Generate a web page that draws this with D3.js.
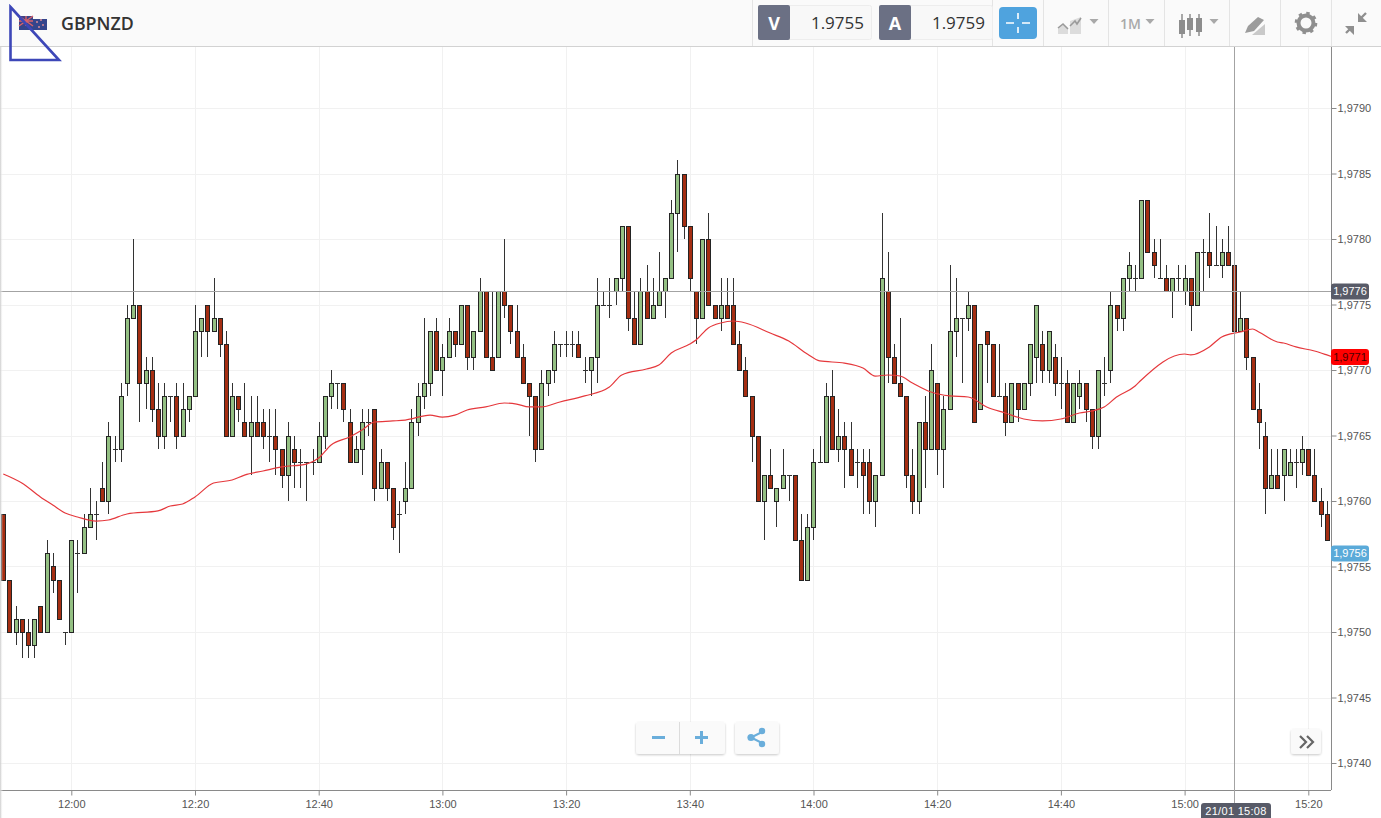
<!DOCTYPE html>
<html><head><meta charset="utf-8">
<script src="https://cdnjs.cloudflare.com/ajax/libs/d3/7.8.5/d3.min.js"></script>
<style>html,body{margin:0;padding:0;background:#fff;overflow:hidden}svg{display:block}</style>
</head><body><svg id="c" width="1381" height="818"></svg>
<script>
// Prices are in pips above 1.9700; one candle per minute starting at 11:49
const symbol="GBPNZD", bidPrice="1.9755", askPrice="1.9759";
const opens=[59,54,50,51,50,49,52,50,55,54,50,50,56,56,58,59,61,60,64,64,69,74,75,69,70,67,65,68,68,65,67,68,73,75,73,74,72,65,68,66,65,66,66,65,65,64,62,64,63,63,63,63,65,68,69,69,66,63,64,66,67,61,63,61,59,60,61,66,68,69,73,70,71,73,72,75,71,73,76,71,71,76,75,73,71,69,68,64,69,70,72,72,72,72,70,70,71,75,75,76,77,81,74,72,76,74,75,76,77,82,85,81,76,74,80,75,74,75,75,72,70,68,65,60,62,60,61,62,62,57,54,58,63,63,68,64,65,64,63,63,63,60,62,76,71,69,68,62,60,66,64,69,64,67,73,74,74,75,67,73,72,68,68,66,69,67,69,71,72,70,71,69,69,66,68,69,67,65,69,70,75,74,77,77,77,83,79,77,77,76,77,76,77,75,79,79,78,78,79,78,73,74,71,67,65,61,62,62,62,63,63,64,62,60,59];
const highs=[59,54,52,51,51,51,52,57,56,54,50,57,57,59,61,60,63,66,65,69,75,80,75,71,71,69,69,68,69,69,68,75,74,75,77,74,73,69,68,69,68,68,67,67,67,64,66,65,64,63,64,66,68,70,69,69,67,65,67,67,67,64,63,61,60,63,67,69,74,73,74,72,74,73,75,75,73,77,76,76,76,80,75,75,72,69,68,70,70,73,72,73,73,73,71,71,77,76,77,77,81,81,76,77,78,77,79,77,83,86,85,81,76,80,82,75,77,77,77,73,71,68,65,62,64,61,64,62,62,59,59,64,65,69,70,67,66,66,64,64,64,62,82,79,72,74,68,64,66,68,72,69,68,78,77,74,76,75,72,73,72,72,69,69,69,69,72,75,73,73,72,71,70,69,70,69,67,70,71,76,75,77,79,78,83,83,80,80,78,77,78,78,77,79,80,82,81,80,81,79,76,74,71,69,66,64,64,64,64,64,65,64,64,61,60];
const lows=[54,50,49,48,48,48,50,50,53,51,49,50,53,56,58,57,60,59,63,63,68,74,66,67,66,64,64,66,64,65,66,68,71,71,73,71,65,65,66,65,62,65,64,63,62,61,60,61,61,60,62,63,64,67,67,66,63,63,62,65,60,61,60,57,56,59,61,65,67,68,70,68,71,71,72,70,70,73,71,70,71,74,72,71,69,65,63,64,68,69,71,71,71,71,69,68,69,75,74,75,76,73,72,72,74,74,75,74,77,79,80,76,72,74,75,74,73,74,72,70,68,63,60,57,61,58,61,60,57,54,54,57,63,63,64,63,61,62,61,59,59,58,62,69,69,68,61,59,59,61,64,62,61,67,71,69,73,66,67,69,68,68,65,66,66,67,68,69,69,69,68,67,66,66,67,66,64,64,68,69,73,73,76,76,77,79,77,77,76,74,76,75,73,75,76,77,78,77,78,73,73,70,67,64,59,61,61,60,62,61,62,62,60,58,57];
const closes=[54,50,51,50,49,51,50,56,54,51,50,57,56,58,59,59,60,65,64,68,74,75,69,70,67,65,68,68,65,67,68,73,74,73,74,72,65,68,67,65,66,65,65,65,64,62,65,63,63,63,63,65,68,69,69,67,63,64,66,66,61,63,61,58,59,61,66,68,69,73,70,71,73,72,75,71,73,76,71,70,76,75,73,71,69,68,64,69,70,72,72,72,72,71,70,71,75,75,75,77,81,74,72,76,74,75,76,77,82,85,81,77,74,80,75,74,75,74,72,70,68,65,60,62,61,61,62,62,57,54,58,63,63,68,64,65,64,62,63,62,60,62,77,71,69,68,62,60,66,64,70,64,67,73,74,74,75,66,72,72,68,68,66,69,67,69,72,75,70,73,69,69,66,69,69,67,65,70,69,75,74,77,78,77,83,79,78,77,76,77,77,77,75,79,79,78,78,79,78,73,74,71,67,66,61,62,61,64,63,63,64,62,60,59,57];
// Moving average, read at these candle numbers
const maIndex=[0,3,6,8,10,12,15,17,20,25,27,29,31,34,37,39,42,45,49,51,53,56,58,60,63,65,69,71,73,75,78,81,83,85,87,90,94,98,100,104,106,108,111,112,114,116,118,120,124,127,130,132,136,139,141,143,145,147,150,153,156,159,162,165,168,171,174,176,178,180,183,184,191,192,195,197,200,202,203,206,207,209,212,214,215];
const maPips=[62.06,61.37,60.31,59.69,59.08,58.78,58.47,58.55,59.01,59.24,59.62,59.77,60.31,61.37,61.6,61.98,62.29,62.6,62.82,63.28,64.27,64.89,65.42,66.03,66.11,66.18,66.56,66.41,66.56,66.95,67.18,67.48,67.4,67.18,67.18,67.56,68.02,68.7,69.62,70.08,70.38,71.3,71.98,72.29,73.21,73.59,73.74,73.59,72.82,72.21,71.22,70.69,70.53,70.15,69.54,69.62,69.54,69.01,68.32,68.02,67.94,67.18,66.72,66.26,66.11,66.26,66.72,66.87,67.18,67.94,68.78,69.24,71.22,71.15,71.76,72.52,72.9,73.13,72.9,72.14,72.06,71.76,71.45,71.15,70.99];
const priceTicks=[1.9740,1.9745,1.9750,1.9755,1.9760,1.9765,1.9770,1.9775,1.9780,1.9785,1.9790];
const timeTicks=["12:00","12:20","12:40","13:00","13:20","13:40","14:00","14:20","14:40","15:00","15:20"];
const crossPrice=1.9776, maPrice=1.9771, lastPrice=1.9756, crossTime="15:08", crossLabel="21/01 15:08";

const toPrice=p=>1.97+p/10000;
const day=s=>{const [h,m]=s.split(":").map(Number);return new Date(2020,0,21,h,m)};
const firstT=day("11:49");
const at=i=>new Date(+firstT+i*60000);
const x=d3.scaleTime().domain([day("12:00"),day("15:20")]).range([71.3,1308.3]);
const y=d3.scaleLinear().domain([1.9740,1.9790]).range([763,108]);
const svg=d3.select("#c");
const font="'Liberation Sans',Arial,sans-serif", ui="'Open Sans',sans-serif";
const R=1331,B=790,T=46;

svg.append("rect").attr("width",1381).attr("height",818).attr("fill","#fff");
const clip=svg.append("defs");
clip.append("clipPath").attr("id","plot").append("rect").attr("x",0).attr("y",T).attr("width",R).attr("height",B-T);
const grad=clip.append("linearGradient").attr("id","edge");
grad.append("stop").attr("offset",0).attr("stop-color","#c9c9c9");
grad.append("stop").attr("offset",1).attr("stop-color","#fff").attr("stop-opacity",0);
const shadow=clip.append("filter").attr("id","sh").attr("x","-20%").attr("y","-20%").attr("width","140%").attr("height","150%");
shadow.append("feDropShadow").attr("dx",0).attr("dy",1).attr("stdDeviation",1.2).attr("flood-color","#000").attr("flood-opacity",.22);

// grid
const grid=svg.append("g").attr("stroke","#f1f1f1").attr("shape-rendering","crispEdges");
grid.selectAll(".h").data(priceTicks).join("line").attr("x1",0).attr("x2",R).attr("y1",d=>Math.round(y(d))+.5).attr("y2",d=>Math.round(y(d))+.5);
grid.selectAll(".v").data(timeTicks).join("line").attr("x1",d=>Math.round(x(day(d)))+.5).attr("x2",d=>Math.round(x(day(d)))+.5).attr("y1",T).attr("y2",B);

// axes
const fmtP=d=>d.toFixed(4).replace(".",",");
const ay=svg.append("g").attr("transform",`translate(${R+.5},0)`).call(d3.axisRight(y).tickValues(priceTicks).tickFormat(fmtP).tickSize(5).tickPadding(1));
const ax=svg.append("g").attr("transform",`translate(0,${B+.5})`).call(d3.axisBottom(x).tickValues(timeTicks.map(day)).tickFormat(d3.timeFormat("%H:%M")).tickSize(5).tickPadding(3));
[ay,ax].forEach(g=>{g.attr("font-family",font).attr("font-size",11).attr("color","#666");
  g.selectAll("line").attr("stroke","#8a8a8a");g.selectAll("text").attr("fill","#555");
  g.select(".domain").attr("stroke","#8a8a8a")});
ay.select(".domain").attr("d",`M0,${T}V${B}`);
ax.select(".domain").attr("d",`M0,0H${R}`);
ax.selectAll("text").attr("dy","0.9em");

// candles
const plot=svg.append("g").attr("clip-path","url(#plot)");
const idx=d3.range(opens.length);
const cx=i=>Math.round(x(at(i)))+.5;
const candles=plot.append("g").selectAll("g").data(idx).join("g").attr("shape-rendering","crispEdges");
candles.append("line").attr("x1",cx).attr("x2",cx).attr("y1",i=>y(toPrice(highs[i]))).attr("y2",i=>y(toPrice(lows[i]))).attr("stroke","#333");
candles.filter(i=>opens[i]!==closes[i]).append("rect")
  .attr("x",i=>cx(i)-2).attr("width",4)
  .attr("y",i=>Math.round(y(toPrice(Math.max(opens[i],closes[i]))))+.5)
  .attr("height",i=>Math.abs(Math.round(y(toPrice(opens[i])))-Math.round(y(toPrice(closes[i])))))
  .attr("fill",i=>closes[i]>opens[i]?"#94c083":"#a52e12").attr("stroke","#242424");
candles.filter(i=>opens[i]===closes[i]).append("line")
  .attr("x1",i=>cx(i)-2.5).attr("x2",i=>cx(i)+2.5)
  .attr("y1",i=>Math.round(y(toPrice(opens[i])))+.5).attr("y2",i=>Math.round(y(toPrice(opens[i])))+.5).attr("stroke","#333");

// moving average
plot.append("path").datum(maIndex.map((k,n)=>[k,maPips[n]]))
  .attr("d",d3.line().x(d=>x(at(d[0]))).y(d=>y(toPrice(d[1]))).curve(d3.curveMonotoneX))
  .attr("fill","none").attr("stroke","#e5383c").attr("stroke-width",1.2);

// crosshair
const cross=svg.append("g").attr("stroke","#a3a3a3").attr("shape-rendering","crispEdges");
cross.append("line").attr("x1",0).attr("x2",R).attr("y1",Math.round(y(crossPrice))+.5).attr("y2",Math.round(y(crossPrice))+.5);
cross.append("line").attr("x1",Math.round(x(day(crossTime)))+.5).attr("x2",Math.round(x(day(crossTime)))+.5).attr("y1",T).attr("y2",803);

// price flags
function flag(p,fill){const cy=y(p);
  svg.append("rect").attr("x",1331).attr("y",cy-8).attr("width",38).attr("height",16).attr("rx",3).attr("fill",fill);
  svg.append("text").attr("x",1350).attr("y",cy+4).attr("text-anchor","middle").attr("font-family",font).attr("font-size",11).attr("fill",fill==="#ff0000"?"#4a0000":"#fff").text(fmtP(p));}
flag(crossPrice,"#585b68");flag(maPrice,"#ff0000");flag(lastPrice,"#5aaad9");

// date flag
svg.append("path").attr("d","M1201,818V806q0,-3 3,-3H1268q3,0 3,3V818Z").attr("fill","#585b68");
svg.append("text").attr("x",1236).attr("y",815).attr("text-anchor","middle").attr("font-family",font).attr("font-size",11).attr("letter-spacing",.3).attr("fill","#fff").text(crossLabel);

// left edge
svg.append("rect").attr("x",0).attr("y",0).attr("width",3).attr("height",818).attr("fill","url(#edge)");

// header
const head=svg.append("g");
head.append("rect").attr("width",1381).attr("height",T).attr("fill","#fafafa");
head.append("line").attr("x1",0).attr("x2",1381).attr("y1",T+.5).attr("y2",T+.5).attr("stroke","#d2d2d2");
[752,992,1043,1108,1164,1229,1280,1331].forEach(v=>head.append("line").attr("x1",v+.5).attr("x2",v+.5).attr("y1",0).attr("y2",T).attr("stroke","#e4e4e4"));
// flag
head.append("rect").attr("x",19).attr("y",19).attr("width",28).attr("height",11).attr("fill","#34458c");
head.append("rect").attr("x",19).attr("y",16).attr("width",14).attr("height",10).attr("fill","#3e4386");
head.append("path").attr("d","M19,16L33,26M33,16L19,26M26,16V26M19,21H33").attr("stroke","#d8636c").attr("stroke-width",1.4);
[[37,22],[41,20],[43,25],[39,27]].forEach(d=>head.append("circle").attr("cx",d[0]).attr("cy",d[1]).attr("r",1).attr("fill","#d98a95"));
head.append("text").attr("x",61).attr("y",30).attr("font-family",ui).attr("font-weight",600).attr("font-size",17.8).attr("fill","#333").text(symbol);
function quote(xb,letter,val){
  head.append("rect").attr("x",xb+.5).attr("y",5.5).attr("width",113).attr("height",34).attr("rx",2).attr("fill","#f8f8f8").attr("stroke","#ededed");
  head.append("rect").attr("x",xb).attr("y",5).attr("width",32).attr("height",35).attr("rx",2).attr("fill","#6b7084");
  head.append("text").attr("x",xb+16).attr("y",30).attr("text-anchor","middle").attr("font-family",ui).attr("font-weight",700).attr("font-size",18).attr("fill","#fff").text(letter);
  head.append("text").attr("x",xb+106).attr("y",29).attr("text-anchor","end").attr("font-family",ui).attr("font-size",17).attr("fill","#333").text(val);}
quote(758,"V",bidPrice);quote(879,"A",askPrice);
head.append("rect").attr("x",999).attr("y",7).attr("width",38).attr("height",32).attr("rx",4).attr("fill","#4fa3de");
head.append("path").attr("d","M1006,23H1014M1022,23H1030M1018,13V19M1018,27V33").attr("stroke","#fff").attr("stroke-width",1.6);
const ic="#a9a9a9";
head.append("path").attr("d","M1058,34V28L1063,24L1068,28V34ZM1070,34V21L1081,17V34Z").attr("fill","#dcdcdc");
head.append("path").attr("d","M1058,28L1063,24L1068,29M1070,26L1075,21L1077,24L1081,18").attr("fill","none").attr("stroke","#9a9a9a").attr("stroke-width",1.6);
const tri=(tx)=>head.append("path").attr("d",`M${tx-4.5},19H${tx+4.5}L${tx},24Z`).attr("fill",ic);
tri(1094);tri(1150);tri(1214);
head.append("text").attr("x",1120).attr("y",29).attr("font-family",ui).attr("font-weight",600).attr("font-size",14).attr("fill",ic).text("1M");
[[1182,20,34,14,38],[1190,18,30,14,36],[1199,18,32,14,36]].forEach(d=>{
  head.append("line").attr("x1",d[0]).attr("x2",d[0]).attr("y1",d[3]).attr("y2",d[4]).attr("stroke","#8d8d8d").attr("stroke-width",1.5);
  head.append("rect").attr("x",d[0]-3).attr("y",d[1]).attr("width",6).attr("height",d[2]-d[1]).attr("fill","#8d8d8d");});
head.append("path").attr("d","M1245,33L1248,26L1258,17L1264,20L1254,31Z").attr("fill","#9c9c9c");
head.append("path").attr("d","M1252,35H1265V24Z").attr("fill","#c9c9c9");
head.append("circle").attr("cx",1306).attr("cy",23).attr("r",7.5).attr("fill","none").attr("stroke","#8f8f8f").attr("stroke-width",4);
head.append("circle").attr("cx",1306).attr("cy",23).attr("r",10).attr("fill","none").attr("stroke","#8f8f8f").attr("stroke-width",2.6).attr("stroke-dasharray","3.4 4.45");
head.append("path").attr("d","M1346,33L1352,27M1359,20L1366,13").attr("stroke","#8f8f8f").attr("stroke-width",2.4);
head.append("path").attr("d","M1345,26H1354V35ZM1358,13V22H1367Z").attr("fill","#8f8f8f");

// annotation triangle
svg.append("path").attr("d","M10.5,7L59,60H10.5Z").attr("fill","none").attr("stroke","#3d47b8").attr("stroke-width",2.6);

// floating buttons
const btn=(bx,by,w,h)=>svg.append("rect").attr("x",bx).attr("y",by).attr("width",w).attr("height",h).attr("rx",3).attr("fill","#fafafa").attr("filter","url(#sh)");
btn(636,722,89,32);btn(735,722,44,32);btn(1291,729,30,25);
svg.append("line").attr("x1",679.5).attr("x2",679.5).attr("y1",722).attr("y2",754).attr("stroke","#dcdcdc");
svg.append("path").attr("d","M652,737.5H665M695,737.5H708M701.5,731V744").attr("stroke","#6aaedb").attr("stroke-width",3);
svg.append("path").attr("d","M762,732L751,737.5L762,743").attr("fill","none").attr("stroke","#6aaedb").attr("stroke-width",2);
[[762,731,3.2],[751,737.5,3.6],[762,744,3.2]].forEach(d=>svg.append("circle").attr("cx",d[0]).attr("cy",d[1]).attr("r",d[2]).attr("fill","#6aaedb"));
svg.append("path").attr("d","M1300,736L1306,742L1300,748M1307,736L1313,742L1307,748").attr("fill","none").attr("stroke","#666").attr("stroke-width",2.2);
</script></body></html>
